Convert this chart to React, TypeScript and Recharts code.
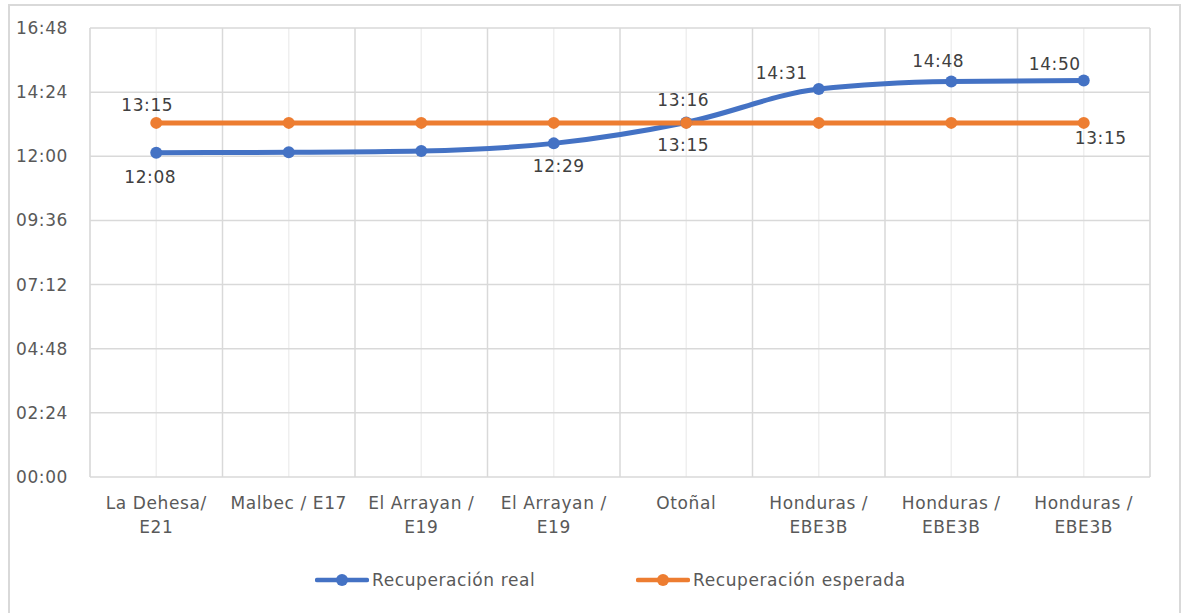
import React from "react";
import {
  LineChart,
  Line,
  XAxis,
  YAxis,
  CartesianGrid,
  Legend,
  LabelList,
} from "recharts";

const categories = [
  "La Dehesa/ E21",
  "Malbec / E17",
  "El Arrayan / E19",
  "El Arrayan / E19",
  "Otoñal",
  "Honduras / EBE3B",
  "Honduras / EBE3B",
  "Honduras / EBE3B",
];
const realTimes = ["12:08", "12:09", "12:12", "12:29", "13:16", "14:31", "14:48", "14:50"];
const expectedTimes = ["13:15", "13:15", "13:15", "13:15", "13:15", "13:15", "13:15", "13:15"];
const yTickLabels = ["00:00", "02:24", "04:48", "07:12", "09:36", "12:00", "14:24", "16:48"];
const seriesNames = ["Recuperación real", "Recuperación esperada"];

const toMin = (s: string) => {
  const [h, m] = s.split(":").map(Number);
  return h * 60 + m;
};
const toHHMM = (v: number) => {
  const h = Math.floor(v / 60);
  const m = Math.round(v - h * 60);
  return `${String(h).padStart(2, "0")}:${String(m).padStart(2, "0")}`;
};

const data = categories.map((c, i) => ({
  idx: i,
  name: c,
  real: toMin(realTimes[i]),
  esperada: toMin(expectedTimes[i]),
  realLabel: realTimes[i],
  esperadaLabel: expectedTimes[i],
}));

const yTicks = yTickLabels.map(toMin);
const xTicks = categories.map((_, i) => i);

const BLUE = "#4472C4";
const ORANGE = "#ED7D31";
const FONT = "DejaVu Sans";
const TICK_COLOR = "#595959";
const LABEL_COLOR = "#404040";
const LS = 0.6;

const wrap = (s: string, maxChars: number) => {
  const words = s.split(" ");
  const lines: string[] = [];
  let cur = "";
  for (const w of words) {
    const next = cur ? cur + " " + w : w;
    if (next.length > maxChars && cur) {
      lines.push(cur);
      cur = w;
    } else {
      cur = next;
    }
  }
  if (cur) lines.push(cur);
  return lines;
};

const XTick = (props: any) => {
  const { x, y, payload } = props;
  const lines = wrap(categories[payload.value] ?? "", 12);
  return (
    <g>
      {lines.map((l, i) => (
        <text
          key={i}
          x={x}
          y={y + 32 + i * 24}
          textAnchor="middle"
          fill={TICK_COLOR}
          fontFamily={FONT}
          fontSize={17}
          letterSpacing={LS}
        >
          {l}
        </text>
      ))}
    </g>
  );
};

// label placement (relative to the point) chosen per point index
const realLabelPlacement: Record<number, [number, number]> = {
  0: [-6, 24],
  3: [5, 23],
  4: [-3, -22],
  5: [-37, -16],
  6: [-13, -20],
  7: [-29, -17],
};
const expectedLabelPlacement: Record<number, [number, number]> = {
  0: [-9, -18],
  4: [-3, 22],
  7: [17, 15],
};

const makeLabel = (placement: Record<number, [number, number]>) => (props: any) => {
  const { x, y, index, value } = props;
  const p = placement[index];
  if (!p) return null;
  return (
    <text
      x={x + p[0]}
      y={y + p[1]}
      textAnchor="middle"
      dominantBaseline="central"
      fill={LABEL_COLOR}
      fontFamily={FONT}
      fontSize={17}
      letterSpacing={LS}
    >
      {value}
    </text>
  );
};

const LegendContent = () => {
  const items = [
    { name: seriesNames[0], color: BLUE, left: 315 },
    { name: seriesNames[1], color: ORANGE, left: 636 },
  ];
  return (
    <div style={{ position: "relative", width: 1185, height: 30 }}>
      {items.map((it) => (
        <div
          key={it.name}
          style={{
            position: "absolute",
            left: it.left,
            top: 0,
            height: 30,
            display: "flex",
            alignItems: "center",
            whiteSpace: "nowrap",
          }}
        >
          <svg width={54} height={14} style={{ display: "block" }}>
            <line x1={2} y1={7} x2={52} y2={7} stroke={it.color} strokeWidth={4.5} strokeLinecap="round" />
            <circle cx={27} cy={7} r={6} fill={it.color} />
          </svg>
          <span
            style={{
              marginLeft: 3,
              fontFamily: FONT,
              fontSize: 17,
              letterSpacing: LS,
              color: TICK_COLOR,
            }}
          >
            {it.name}
          </span>
        </div>
      ))}
    </div>
  );
};

const boundaryGenerator = ({ offset }: any) =>
  Array.from({ length: categories.length + 1 }, (_, i) => offset.left + (offset.width * i) / categories.length);

export default function App() {
  return (
    <div style={{ position: "absolute", left: 0, top: 0, width: 1185, height: 613, background: "#fff" }}>
      <div
        style={{
          position: "absolute",
          left: 8,
          top: 4,
          width: 1173,
          height: 609,
          borderTop: "2px solid #d9d9d9",
          borderLeft: "2px solid #d9d9d9",
          borderRight: "2px solid #d9d9d9",
          boxSizing: "border-box",
        }}
      />
      <div style={{ position: "absolute", left: 0, top: 0 }}>
        <LineChart
          width={1185}
          height={613}
          data={data}
          margin={{ top: 28, right: 35, bottom: 26, left: 10 }}
        >
          <CartesianGrid stroke="#efefef" strokeWidth={1.5} horizontal={false} vertical={true} />
          <CartesianGrid
            stroke="#d9d9d9"
            strokeWidth={1.5}
            horizontal={true}
            vertical={true}
            verticalCoordinatesGenerator={boundaryGenerator}
          />
          <XAxis
            dataKey="idx"
            type="number"
            domain={[-0.5, categories.length - 0.5]}
            ticks={xTicks}
            interval={0}
            axisLine={false}
            tickLine={false}
            tickSize={0}
            tickMargin={0}
            height={80}
            tick={<XTick />}
          />
          <YAxis
            type="number"
            domain={[0, yTicks[yTicks.length - 1]]}
            ticks={yTicks}
            interval={0}
            axisLine={false}
            tickLine={false}
            tickSize={0}
            tickMargin={22}
            width={80}
            tickFormatter={toHHMM}
            tick={{ fill: TICK_COLOR, fontFamily: FONT, fontSize: 17, letterSpacing: LS }}
          />
          <Legend
            verticalAlign="bottom"
            content={<LegendContent />}
            wrapperStyle={{ top: 565, left: 0, width: 1185, height: 30, bottom: "auto" }}
          />
          <Line
            type="monotone"
            dataKey="real"
            name={seriesNames[0]}
            stroke={BLUE}
            strokeWidth={5}
            dot={{ r: 6, fill: BLUE, stroke: BLUE, strokeWidth: 0 }}
            isAnimationActive={false}
          >
            <LabelList dataKey="realLabel" content={makeLabel(realLabelPlacement)} />
          </Line>
          <Line
            type="linear"
            dataKey="esperada"
            name={seriesNames[1]}
            stroke={ORANGE}
            strokeWidth={5}
            dot={{ r: 6, fill: ORANGE, stroke: ORANGE, strokeWidth: 0 }}
            isAnimationActive={false}
          >
            <LabelList dataKey="esperadaLabel" content={makeLabel(expectedLabelPlacement)} />
          </Line>
        </LineChart>
      </div>
    </div>
  );
}
